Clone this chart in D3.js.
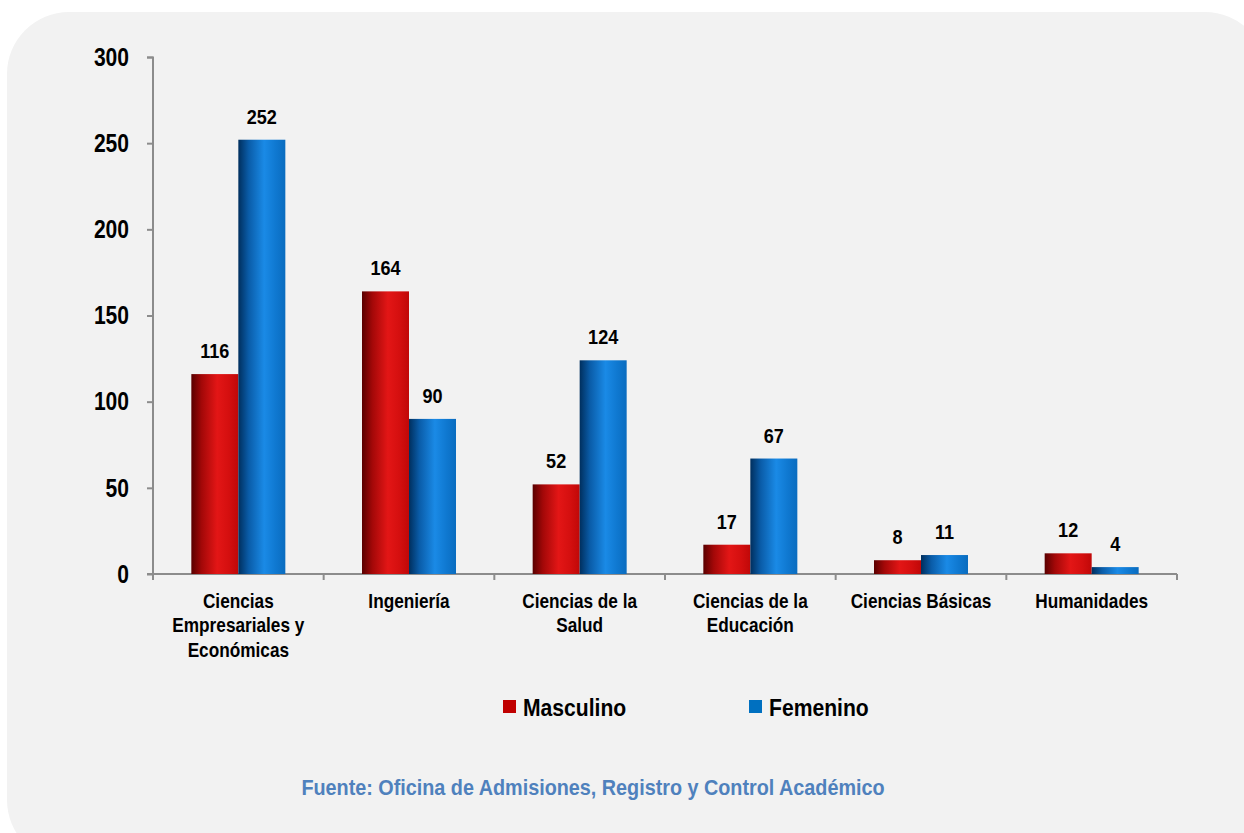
<!DOCTYPE html>
<html>
<head>
<meta charset="utf-8">
<script src="https://cdn.jsdelivr.net/npm/d3@7"></script>
<style>
  html, body { margin: 0; padding: 0; background: #ffffff; }
  svg { display: block; }
  text { font-family: "Liberation Sans", Arial, sans-serif; font-weight: bold; }
</style>
</head>
<body>
<svg id="chart" width="1244" height="833"></svg>
<script>
// Data
const categories = [
  ["Ciencias", "Empresariales y", "Económicas"],
  ["Ingeniería"],
  ["Ciencias de la", "Salud"],
  ["Ciencias de la", "Educación"],
  ["Ciencias Básicas"],
  ["Humanidades"]
];
const masculino = [116, 164, 52, 17, 8, 12];
const femenino = [252, 90, 124, 67, 11, 4];
const yTicks = [0, 50, 100, 150, 200, 250, 300];
const seriesNames = ["Masculino", "Femenino"];

const width = 1244, height = 833;
const margin = { top: 57, left: 153, right: 67, bottom: 259 };
const innerWidth = width - margin.left - margin.right;
const innerHeight = height - margin.top - margin.bottom;

// condensed look (the original uses a narrow face)
const narrow = 0.84;

const svg = d3.select("#chart");

/*****************/
/*  Backgrounds  */
/*****************/
svg.append("rect")
  .attr("x", 7).attr("y", 12)
  .attr("width", 1260).attr("height", 850)
  .attr("rx", 62).attr("ry", 62)
  .attr("fill", "#f2f2f2");

// Cylinder-like gradients for the bars
const defs = svg.append("defs");
const addGradient = (id, stops) => {
  const grad = defs.append("linearGradient")
    .attr("id", id)
    .attr("x1", "0%").attr("x2", "100%")
    .attr("y1", "0%").attr("y2", "0%");
  stops.forEach(([offset, color]) => {
    grad.append("stop").attr("offset", offset).attr("stop-color", color);
  });
};
addGradient("grad-red", [["0%", "#5a0000"], ["22%", "#a30808"], ["55%", "#e31616"], ["80%", "#d40f0f"], ["100%", "#c00808"]]);
addGradient("grad-blue", [["0%", "#002f5e"], ["22%", "#0a5ca8"], ["55%", "#1a8ae6"], ["80%", "#0f78d0"], ["100%", "#0a6cbf"]]);

const colors = ["#c00000", "#0070c0"];
const fills = ["url(#grad-red)", "url(#grad-blue)"];

const g = svg.append("g").attr("transform", `translate(${margin.left},${margin.top})`);

/************/
/*  Scales  */
/************/
const xScale = d3.scaleBand()
  .domain(d3.range(categories.length))
  .range([0, innerWidth])
  .padding(0);

const barW = 47;

const yScale = d3.scaleLinear()
  .domain([0, 300])
  .range([innerHeight, 0]);

/**********/
/*  Axes  */
/**********/
const yAxis = g.append("g")
  .call(d3.axisLeft(yScale).tickValues(yTicks).tickSize(6).tickPadding(16));
yAxis.select(".domain").attr("stroke", "#8c8c8c").attr("stroke-width", 2)
  .attr("d", `M-6,0.5H0V${innerHeight}`);
yAxis.selectAll(".tick line").attr("stroke", "#8c8c8c").attr("stroke-width", 2);
yAxis.selectAll(".tick text")
  .attr("fill", "#000")
  .attr("x", null)
  .attr("transform", `translate(-24,0) scale(0.81,1)`)
  .style("font-size", "26px")
  .style("font-family", "'Liberation Sans', Arial, sans-serif")
  .style("font-weight", "bold");

// x axis: line with ticks at category boundaries
const xAxisG = g.append("g").attr("transform", `translate(0,${innerHeight})`);
xAxisG.append("line")
  .attr("x1", -6).attr("x2", innerWidth)
  .attr("stroke", "#8c8c8c").attr("stroke-width", 2);
xAxisG.selectAll(".xtick")
  .data(d3.range(categories.length + 1))
  .join("line")
    .attr("class", "xtick")
    .attr("x1", i => i * xScale.bandwidth())
    .attr("x2", i => i * xScale.bandwidth())
    .attr("y1", 0).attr("y2", 6)
    .attr("stroke", "#8c8c8c").attr("stroke-width", 2);

// category labels
xAxisG.selectAll(".cat")
  .data(categories)
  .join("text")
    .attr("class", "cat")
    .attr("text-anchor", "middle")
    .attr("fill", "#000")
    .style("font-size", "20.5px")
    .attr("transform", (_, i) => `translate(${xScale(i) + xScale.bandwidth() / 2},34) scale(${narrow},1)`)
    .selectAll("tspan")
    .data(d => d)
    .join("tspan")
      .attr("x", 0)
      .attr("dy", (_, j) => j === 0 ? 0 : 24.5)
      .text(d => d);

/**********/
/*  Bars  */
/**********/
const seriesData = [masculino, femenino];
seriesData.forEach((values, s) => {
  const x = i => xScale(i) + xScale.bandwidth() / 2 - barW + s * barW;

  g.selectAll(`.bar-${s}`)
    .data(values)
    .join("rect")
      .attr("class", `bar-${s}`)
      .attr("x", (_, i) => x(i))
      .attr("y", d => yScale(d))
      .attr("width", barW)
      .attr("height", d => innerHeight - yScale(d))
      .attr("fill", fills[s]);

  g.selectAll(`.lbl-${s}`)
    .data(values)
    .join("text")
      .attr("class", `lbl-${s}`)
      .attr("text-anchor", "middle")
      .attr("transform", (d, i) => `translate(${x(i) + barW / 2},${yScale(d) - 16}) scale(0.86,1)`)
      .attr("fill", "#000")
      .style("font-size", "21px")
      .text(d => d);
});

/************/
/*  Legend  */
/************/
const legendX = [503, 749];
const legend = svg.selectAll(".legend")
  .data(seriesNames)
  .join("g")
    .attr("class", "legend")
    .attr("transform", (_, i) => `translate(${legendX[i]},700)`);
legend.append("rect")
  .attr("width", 13).attr("height", 13)
  .attr("fill", (_, i) => colors[i]);
legend.append("text")
  .attr("transform", "translate(20,16) scale(0.88,1)")
  .attr("fill", "#000")
  .style("font-size", "24px")
  .text(d => d);

/************/
/*  Source  */
/************/
svg.append("text")
  .attr("transform", "translate(593,795) scale(0.9,1)")
  .attr("text-anchor", "middle")
  .attr("fill", "#4f81bd")
  .style("font-size", "22px")
  .text("Fuente: Oficina de Admisiones, Registro y Control Académico");
</script>
</body>
</html>
